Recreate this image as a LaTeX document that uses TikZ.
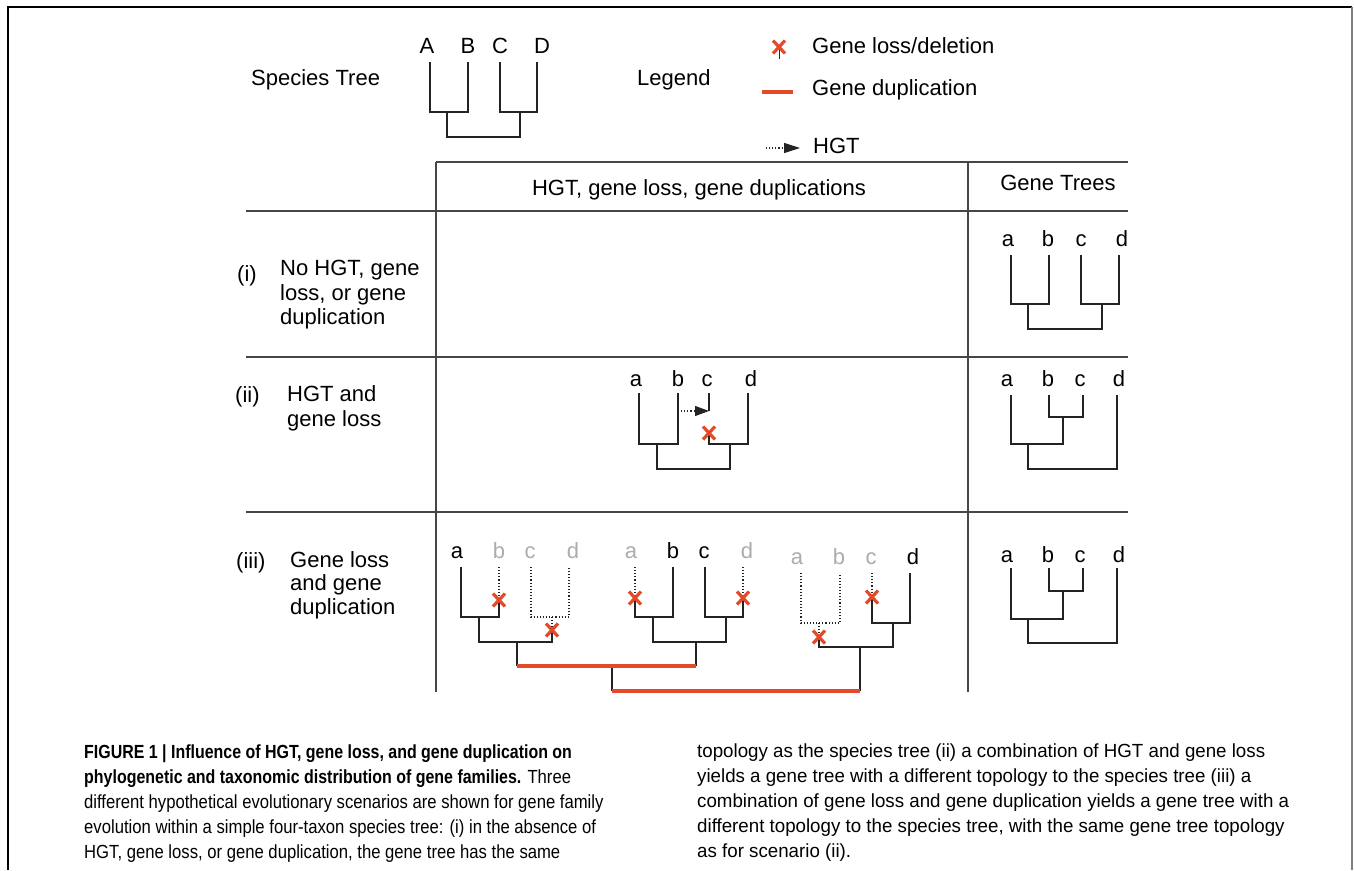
\documentclass[tikz,border=0pt]{standalone}
\usepackage{fontspec}
\setmainfont{Liberation Sans}
\newfontfamily\capfontL[FakeStretch=0.877]{Liberation Sans}
\newfontfamily\capfontB[FakeStretch=0.84]{Liberation Sans}
\newfontfamily\capfontR[FakeStretch=0.985]{Liberation Sans}
\usetikzlibrary{arrows.meta}
\definecolor{lossred}{RGB}{226,74,42}
\definecolor{ghost}{RGB}{172,172,172}
\definecolor{branch}{RGB}{35,35,35}
\definecolor{rulecol}{RGB}{70,70,70}
\begin{document}
\begin{tikzpicture}[x=1pt,y=-1pt,
  lbl/.style={font=\fontsize{22}{26}\selectfont, inner sep=0pt, anchor=base},
  txt/.style={lbl, anchor=base west},
  ghostlbl/.style={lbl, text=ghost},
  captxt/.style={font=\capfontL\fontsize{19}{25}\selectfont, inner sep=0pt, anchor=base west},
  captxtr/.style={font=\capfontR\fontsize{19}{25}\selectfont, inner sep=0pt, anchor=base west},
  br/.style={draw=branch, line width=1.2pt},
  lost/.style={draw=branch, line width=1.1pt, dotted},
  dup/.style={draw=lossred, line width=3.6pt},
  grid/.style={draw=rulecol, line width=1.3pt},
  xm/.pic={\draw[lossred, line width=3.2pt] (-6,-6.5)--(6,6.5) (-6,6.5)--(6,-6.5);}
]
\useasboundingbox (0,0) rectangle (1354,870);
\fill[white] (0,0) rectangle (1354,870);
% frame
\coordinate (fBL) at (8,870); \coordinate (fTL) at (8,7);
\coordinate (fTR) at (1352,7); \coordinate (fBR) at (1352,870);
\draw[line width=1.5pt, black] (fBL) -- (fTL) -- (fTR);
\draw[line width=1.5pt, gray] (fTR) -- (fBR);

% ---------- species tree ----------
\node[txt] (spt) at (251,85) {Species Tree};
\node[lbl] (lA) at (427,53) {A};
\node[lbl] (lB) at (468,53) {B};
\node[lbl] (lC) at (500,53) {C};
\node[lbl] (lD) at (542,53) {D};
\coordinate (sA) at (430,62); \coordinate (sB) at (468,62);
\coordinate (sC) at (500,62); \coordinate (sD) at (537,62);
\coordinate (sAB) at (447,112); \coordinate (sCD) at (520,112);
\coordinate (sR) at (483,137);
\draw[br] (sA) |- (sAB) -| (sB);
\draw[br] (sC) |- (sCD) -| (sD);
\draw[br] (sAB) |- (sR) -| (sCD);

% ---------- legend ----------
\node[txt] (leg) at (637,85) {Legend};
\coordinate (gxTop) at (779,47); \coordinate (gxBot) at (779,59);
\draw[branch, line width=1pt] (gxBot) -- (gxTop);
\pic at (gxTop) {xm};
\node[txt] (tloss) at (812,53) {Gene loss/deletion};
\coordinate (gdL) at (762,92); \coordinate (gdR) at (793,92);
\draw[dup] (gdL) -- (gdR);
\node[txt] (tdup) at (812,95) {Gene duplication};
\coordinate (ghL) at (766,148); \coordinate (ghR) at (800,148);
\draw[lost, -{Triangle[length=16pt,width=10pt]}] (ghL) -- (ghR);
\node[txt] (thgt) at (813,153) {HGT};

% ---------- table ----------
\coordinate (t1) at (436,162); \coordinate (t2) at (1128,162);
\coordinate (v1t) at (436,162); \coordinate (v1b) at (436,692);
\coordinate (v2t) at (968,162); \coordinate (v2b) at (968,692);
\coordinate (h1l) at (246,211); \coordinate (h1r) at (1128,211);
\coordinate (h2l) at (246,357); \coordinate (h2r) at (1128,357);
\coordinate (h3l) at (246,512); \coordinate (h3r) at (1128,512);
\draw[grid] (t1) -- (t2);
\draw[grid] (h1l) -- (h1r);
\draw[grid] (h2l) -- (h2r);
\draw[grid] (h3l) -- (h3r);
\draw[grid] (v1t) -- (v1b);
\draw[grid] (v2t) -- (v2b);
\node[lbl] (hdr1) at (699,195) {HGT, gene loss, gene duplications};
\node[lbl] (hdr2) at (1058,190) {Gene Trees};

% row labels
\node[txt] (ri) at (237,281) {(i)};
\node[txt] (ri1) at (280,275) {No HGT, gene};
\node[txt] (ri2) at (280,300) {loss, or gene};
\node[txt] (ri3) at (280,324) {duplication};
\node[txt] (rii) at (235,402) {(ii)};
\node[txt] (rii1) at (287,401) {HGT and};
\node[txt] (rii2) at (287,426) {gene loss};
\node[txt] (riii) at (236,568) {(iii)};
\node[txt] (riii1) at (290,567) {Gene loss};
\node[txt] (riii2) at (290,590) {and gene};
\node[txt] (riii3) at (290,614) {duplication};

% ---------- gene tree (i) ----------
\node[lbl] (g1la) at (1008,246) {a};
\node[lbl] (g1lb) at (1048,246) {b};
\node[lbl] (g1lc) at (1081,246) {c};
\node[lbl] (g1ld) at (1122,246) {d};
\coordinate (g1a) at (1011,255); \coordinate (g1b) at (1049,255);
\coordinate (g1c) at (1081,255); \coordinate (g1d) at (1119,255);
\coordinate (g1ab) at (1028,304); \coordinate (g1cd) at (1102,304);
\coordinate (g1r) at (1065,329);
\draw[br] (g1a) |- (g1ab) -| (g1b);
\draw[br] (g1c) |- (g1cd) -| (g1d);
\draw[br] (g1ab) |- (g1r) -| (g1cd);

% ---------- gene tree (ii) ----------
\node[lbl] (g2la) at (1007,386) {a};
\node[lbl] (g2lb) at (1048,386) {b};
\node[lbl] (g2lc) at (1080,386) {c};
\node[lbl] (g2ld) at (1119,386) {d};
\coordinate (g2a) at (1011,395); \coordinate (g2b) at (1049,395);
\coordinate (g2c) at (1083,395); \coordinate (g2d) at (1117,395);
\coordinate (g2bc) at (1063,417); \coordinate (g2abc) at (1028,444);
\coordinate (g2r) at (1070,469);
\draw[br] (g2b) |- (g2bc) -| (g2c);
\draw[br] (g2a) |- (g2abc) -| (g2bc);
\draw[br] (g2abc) |- (g2r) -| (g2d);

% ---------- gene tree (iii) ----------
\node[lbl] (g3la) at (1007,562) {a};
\node[lbl] (g3lb) at (1048,562) {b};
\node[lbl] (g3lc) at (1080,562) {c};
\node[lbl] (g3ld) at (1119,562) {d};
\coordinate (g3a) at (1011,568); \coordinate (g3b) at (1049,568);
\coordinate (g3c) at (1083,568); \coordinate (g3d) at (1117,568);
\coordinate (g3bc) at (1063,591); \coordinate (g3abc) at (1028,619);
\coordinate (g3r) at (1070,643);
\draw[br] (g3b) |- (g3bc) -| (g3c);
\draw[br] (g3a) |- (g3abc) -| (g3bc);
\draw[br] (g3abc) |- (g3r) -| (g3d);

% ---------- scenario (ii): HGT and gene loss ----------
\node[lbl] (h2la) at (636,386) {a};
\node[lbl] (h2lb) at (678,386) {b};
\node[lbl] (h2lc) at (707,386) {c};
\node[lbl] (h2ld) at (751,386) {d};
\coordinate (h2a) at (639,393); \coordinate (h2b) at (678,393);
\coordinate (h2c) at (709,393); \coordinate (h2d) at (748,393);
\coordinate (h2ab) at (657,444); \coordinate (h2cd) at (730,444);
\coordinate (h2r) at (693,469);
\coordinate (h2hs) at (678,411); \coordinate (h2he) at (709,411);
\coordinate (h2cx) at (709,433);
\draw[br] (h2a) |- (h2ab) -| (h2b);
\draw[br] (h2cx) |- (h2cd) -| (h2d);
\draw[br] (h2ab) |- (h2r) -| (h2cd);
\draw[br] (h2c) -- (h2he);
\draw[lost, -{Triangle[length=14pt,width=10pt]}] (h2hs) -- (h2he);
\pic at (h2cx) {xm};

% ---------- scenario (iii): gene loss and duplication ----------
% tree 1
\node[lbl] (p1la) at (457,558) {a};
\node[ghostlbl] (p1lb) at (499,558) {b};
\node[ghostlbl] (p1lc) at (530,558) {c};
\node[ghostlbl] (p1ld) at (573,558) {d};
\coordinate (p1a) at (461,567); \coordinate (p1b) at (499,567);
\coordinate (p1c) at (531,567); \coordinate (p1d) at (569,567);
\coordinate (p1bx) at (499,600);
\coordinate (p1ab) at (479,617); \coordinate (p1cd) at (552,617);
\coordinate (p1cdx) at (552,630);
\coordinate (p1r) at (517,642); \coordinate (p1s) at (517,666);
\draw[lost] (p1b) -- (p1bx);
\draw[br] (p1a) |- (p1ab) -| (p1bx);
\draw[lost] (p1c) |- (p1cd) -| (p1d);
\draw[lost] (p1cd) -- (p1cdx);
\draw[br] (p1ab) |- (p1r) -| (p1cdx);
\draw[br] (p1r) -- (p1s);
% tree 2
\node[ghostlbl] (p2la) at (631,558) {a};
\node[lbl] (p2lb) at (673,558) {b};
\node[lbl] (p2lc) at (704,558) {c};
\node[ghostlbl] (p2ld) at (747,558) {d};
\coordinate (p2a) at (635,567); \coordinate (p2b) at (673,567);
\coordinate (p2c) at (705,567); \coordinate (p2d) at (743,567);
\coordinate (p2ax) at (635,598); \coordinate (p2dx) at (743,598);
\coordinate (p2ab) at (653,617); \coordinate (p2cd) at (726,617);
\coordinate (p2r) at (696,642); \coordinate (p2s) at (696,666);
\draw[lost] (p2a) -- (p2ax);
\draw[lost] (p2d) -- (p2dx);
\draw[br] (p2ax) |- (p2ab) -| (p2b);
\draw[br] (p2c) |- (p2cd) -| (p2dx);
\draw[br] (p2ab) |- (p2r) -| (p2cd);
\draw[br] (p2r) -- (p2s);
% first duplication
\coordinate (d1) at (612,666); \coordinate (d1s) at (612,691);
\draw[br] (d1) -- (d1s);
\draw[dup] (p1s) -- (p2s);
% tree 3
\node[ghostlbl] (p3la) at (797,564) {a};
\node[ghostlbl] (p3lb) at (839,564) {b};
\node[ghostlbl] (p3lc) at (871,564) {c};
\node[lbl] (p3ld) at (913,564) {d};
\coordinate (p3a) at (801,573); \coordinate (p3b) at (840,573);
\coordinate (p3c) at (872,573); \coordinate (p3d) at (910,573);
\coordinate (p3ab) at (819,623); \coordinate (p3abx) at (819,637);
\coordinate (p3cx) at (872,597); \coordinate (p3cd) at (893,623);
\coordinate (p3r) at (860,647); \coordinate (p3s) at (860,691);
\draw[lost] (p3a) |- (p3ab) -| (p3b);
\draw[lost] (p3ab) -- (p3abx);
\draw[lost] (p3c) -- (p3cx);
\draw[br] (p3cx) |- (p3cd) -| (p3d);
\draw[br] (p3abx) |- (p3r) -| (p3cd);
\draw[br] (p3r) -- (p3s);
% second duplication
\draw[dup] (d1s) -- (p3s);
% loss marks
\pic at (p1bx) {xm};
\pic at (p1cdx) {xm};
\pic at (p2ax) {xm};
\pic at (p2dx) {xm};
\pic at (p3cx) {xm};
\pic at (p3abx) {xm};

% ---------- caption ----------
\node[captxt] (c1) at (84,758) {\capfontB\bfseries FIGURE 1 | Influence of HGT, gene loss, and gene duplication on};
\node[captxt] (c2) at (84,783) {{\capfontB\bfseries phylogenetic and taxonomic distribution of gene families.} Three};
\node[captxt] (c3) at (84,808) {different hypothetical evolutionary scenarios are shown for gene family};
\node[captxt] (c4) at (84,833) {evolution within a simple four-taxon species tree: (i) in the absence of};
\node[captxt] (c5) at (84,858) {HGT, gene loss, or gene duplication, the gene tree has the same};
\node[captxtr] (c6) at (697,757) {topology as the species tree (ii) a combination of HGT and gene loss};
\node[captxtr] (c7) at (697,782) {yields a gene tree with a different topology to the species tree (iii) a};
\node[captxtr] (c8) at (697,807) {combination of gene loss and gene duplication yields a gene tree with a};
\node[captxtr] (c9) at (697,832) {different topology to the species tree, with the same gene tree topology};
\node[captxtr] (c10) at (697,857) {as for scenario (ii).};
\end{tikzpicture}
\end{document}
